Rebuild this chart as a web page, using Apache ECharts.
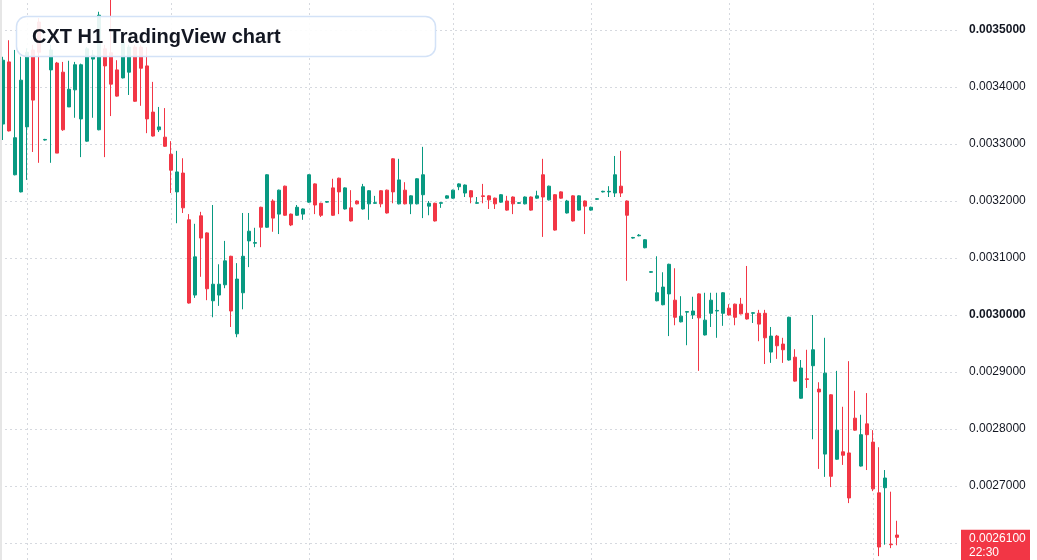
<!DOCTYPE html>
<html>
<head>
<meta charset="utf-8">
<title>CXT H1 TradingView chart</title>
<script src="https://cdn.jsdelivr.net/npm/echarts@6/dist/echarts.min.js"></script>
<style>
  html, body { margin: 0; padding: 0; background: #ffffff; overflow: hidden; width: 1037px; height: 560px; position: relative; }
  /* the price scale runs from 0.0025 to 0.0036; the window only shows the middle of it */
  #chart { position: absolute; left: 0; top: -27px; width: 1037px; height: 627px; }
</style>
</head>
<body>
<div id="chart"></div>
<script>
// hourly candles, oldest first
const opens = [
  0.003335, 0.003444, 0.003246, 0.003216, 0.003330, 0.003465, 0.003514, 0.003307, 0.003430, 0.003442,
  0.003426, 0.003365, 0.003395, 0.003344, 0.003305, 0.003449, 0.003325, 0.003467, 0.003460, 0.003430,
  0.003416, 0.003426, 0.003470, 0.003470, 0.003437, 0.003356, 0.003325, 0.003312, 0.003282, 0.003216,
  0.003249, 0.003167, 0.003035, 0.003174, 0.003144, 0.003025, 0.003035, 0.003053, 0.003103, 0.002967,
  0.003039, 0.003130, 0.003126, 0.003189, 0.003154, 0.003200, 0.003177, 0.003226, 0.003177, 0.003175,
  0.003177, 0.003198, 0.003230, 0.003196, 0.003198, 0.003223, 0.003240, 0.003186, 0.003188, 0.003200,
  0.003186, 0.003195, 0.003196, 0.003218, 0.003219, 0.003274, 0.003195, 0.003219, 0.003195, 0.003195,
  0.003211, 0.003191, 0.003196, 0.003196, 0.003205, 0.003205, 0.003225, 0.003214, 0.003218, 0.003196,
  0.003209, 0.003209, 0.003205, 0.003198, 0.003200, 0.003207, 0.003196, 0.003195, 0.003207, 0.003205,
  0.003246, 0.003202, 0.003211, 0.003216, 0.003179, 0.003209, 0.003184, 0.003200, 0.003184, 0.003203,
  0.003216, 0.003216, 0.003214, 0.003226, 0.003200, 0.003135, 0.003139, 0.003118, 0.003075, 0.003025,
  0.003018, 0.003037, 0.003026, 0.002988, 0.003005, 0.003000, 0.003037, 0.002965, 0.003003, 0.003007,
  0.003003, 0.003012, 0.003019, 0.003019, 0.003003, 0.003003, 0.003003, 0.003003, 0.002935, 0.002963,
  0.002949, 0.002921, 0.002926, 0.002854, 0.002888, 0.002911, 0.002870, 0.002756, 0.002860, 0.002747,
  0.002760, 0.002758, 0.002819, 0.002735, 0.002809, 0.002777, 0.002688, 0.002697, 0.002598, 0.002614
];
const closes = [
  0.003447, 0.003323, 0.003311, 0.003412, 0.003461, 0.003377, 0.003461, 0.003308, 0.003465, 0.003284,
  0.003325, 0.003396, 0.003439, 0.003439, 0.003467, 0.003456, 0.003526, 0.003437, 0.003405, 0.003384,
  0.003479, 0.003470, 0.003375, 0.003433, 0.003344, 0.003314, 0.003330, 0.003296, 0.003254, 0.003251,
  0.003188, 0.003021, 0.003102, 0.003135, 0.003046, 0.003054, 0.003054, 0.003095, 0.003007, 0.003063,
  0.003103, 0.003147, 0.003127, 0.003154, 0.003246, 0.003170, 0.003219, 0.003175, 0.003158, 0.003189,
  0.003186, 0.003246, 0.003193, 0.003175, 0.003199, 0.003175, 0.003216, 0.003223, 0.003165, 0.003195,
  0.003225, 0.003218, 0.003197, 0.003195, 0.003179, 0.003216, 0.003237, 0.003195, 0.003209, 0.003239,
  0.003246, 0.003196, 0.003165, 0.003197, 0.003209, 0.003219, 0.003230, 0.003228, 0.003207, 0.003197,
  0.003208, 0.003202, 0.003195, 0.003211, 0.003184, 0.003195, 0.003197, 0.003207, 0.003184, 0.003209,
  0.003207, 0.003226, 0.003149, 0.003205, 0.003200, 0.003165, 0.003209, 0.003191, 0.003189, 0.003204,
  0.003217, 0.003217, 0.003246, 0.003214, 0.003175, 0.003136, 0.003140, 0.003132, 0.003076, 0.003039,
  0.003049, 0.003089, 0.002996, 0.002998, 0.003006, 0.003007, 0.002995, 0.002991, 0.003026, 0.003008,
  0.003039, 0.003000, 0.002996, 0.003002, 0.002993, 0.003004, 0.002984, 0.002960, 0.002963, 0.002946,
  0.002939, 0.002996, 0.002884, 0.002907, 0.002887, 0.002939, 0.002865, 0.002898, 0.002717, 0.002798,
  0.002754, 0.002679, 0.002798, 0.002790, 0.002790, 0.002695, 0.002593, 0.002714, 0.002597, 0.002610
];
const lows = [
  0.003307, 0.003322, 0.003245, 0.003215, 0.003237, 0.003286, 0.003267, 0.003306, 0.003267, 0.003284,
  0.003323, 0.003365, 0.003346, 0.003277, 0.003304, 0.003346, 0.003324, 0.003277, 0.003349, 0.003383,
  0.003415, 0.003386, 0.003374, 0.003367, 0.003319, 0.003313, 0.003321, 0.003295, 0.003214, 0.003161,
  0.003179, 0.003020, 0.003030, 0.003067, 0.003026, 0.002996, 0.003016, 0.003047, 0.002979, 0.002961,
  0.003010, 0.003084, 0.003119, 0.003119, 0.003153, 0.003146, 0.003142, 0.003174, 0.003156, 0.003174,
  0.003167, 0.003197, 0.003177, 0.003172, 0.003197, 0.003174, 0.003177, 0.003185, 0.003164, 0.003194,
  0.003185, 0.003167, 0.003195, 0.003189, 0.003178, 0.003196, 0.003194, 0.003194, 0.003177, 0.003194,
  0.003170, 0.003175, 0.003164, 0.003188, 0.003204, 0.003204, 0.003219, 0.003207, 0.003196, 0.003195,
  0.003196, 0.003186, 0.003186, 0.003197, 0.003183, 0.003177, 0.003195, 0.003194, 0.003183, 0.003204,
  0.003137, 0.003201, 0.003148, 0.003204, 0.003178, 0.003164, 0.003183, 0.003142, 0.003183, 0.003202,
  0.003215, 0.003207, 0.003207, 0.003207, 0.003060, 0.003134, 0.003138, 0.003117, 0.003074, 0.003024,
  0.003017, 0.002963, 0.002982, 0.002987, 0.002947, 0.002993, 0.002902, 0.002964, 0.002979, 0.002960,
  0.002981, 0.002999, 0.002982, 0.003001, 0.002992, 0.002986, 0.002954, 0.002914, 0.002916, 0.002923,
  0.002916, 0.002920, 0.002883, 0.002853, 0.002872, 0.002782, 0.002730, 0.002716, 0.002698, 0.002746,
  0.002737, 0.002670, 0.002797, 0.002734, 0.002728, 0.002691, 0.002577, 0.002597, 0.002591, 0.002596
];
const highs = [
  0.003453, 0.003482, 0.003465, 0.003453, 0.003468, 0.003474, 0.003521, 0.003309, 0.003474, 0.003444,
  0.003444, 0.003446, 0.003444, 0.003441, 0.003470, 0.003465, 0.003532, 0.003474, 0.003556, 0.003447,
  0.003482, 0.003474, 0.003474, 0.003474, 0.003470, 0.003409, 0.003365, 0.003363, 0.003305, 0.003288,
  0.003275, 0.003177, 0.003160, 0.003181, 0.003145, 0.003193, 0.003089, 0.003130, 0.003104, 0.003091,
  0.003179, 0.003179, 0.003153, 0.003190, 0.003247, 0.003203, 0.003220, 0.003227, 0.003178, 0.003193,
  0.003187, 0.003247, 0.003231, 0.003197, 0.003200, 0.003239, 0.003241, 0.003224, 0.003219, 0.003201,
  0.003230, 0.003219, 0.003209, 0.003219, 0.003220, 0.003275, 0.003274, 0.003233, 0.003210, 0.003240,
  0.003295, 0.003200, 0.003197, 0.003198, 0.003210, 0.003220, 0.003231, 0.003229, 0.003219, 0.003207,
  0.003230, 0.003210, 0.003206, 0.003212, 0.003209, 0.003208, 0.003198, 0.003208, 0.003208, 0.003218,
  0.003274, 0.003227, 0.003212, 0.003217, 0.003202, 0.003210, 0.003210, 0.003201, 0.003190, 0.003205,
  0.003218, 0.003226, 0.003279, 0.003288, 0.003201, 0.003137, 0.003142, 0.003133, 0.003077, 0.003103,
  0.003075, 0.003090, 0.003082, 0.003033, 0.003007, 0.003032, 0.003038, 0.003039, 0.003039, 0.003039,
  0.003040, 0.003019, 0.003020, 0.003030, 0.003086, 0.003005, 0.003009, 0.003009, 0.002979, 0.002965,
  0.002960, 0.002997, 0.002940, 0.002921, 0.002939, 0.003000, 0.002882, 0.002960, 0.002861, 0.002902,
  0.002839, 0.002919, 0.002867, 0.002825, 0.002863, 0.002798, 0.002768, 0.002728, 0.002690, 0.002639
];
// candles where a new session starts (vertical grid lines)
const sessionStarts = [4, 28, 51, 75, 98, 121, 145];
// empty hours kept free on the right of the last candle
const rightOffset = 10;
const priceTicksBold = [0.0035, 0.0030];
const titleText = 'CXT H1 TradingView chart';
const barCountdown = '22:30';

const upColor = '#089981';
const downColor = '#f23645';
const gridColor = '#d6d9df';
const shift = 27; // the chart div starts 27px above the window

const slots = opens.length + rightOffset;
const categories = Array.from({length: slots}, (_, i) => 'h' + i);
const candles = opens.map((o, i) => [o, closes[i], lows[i], highs[i]]);
const lastPrice = closes[closes.length - 1];

const chart = echarts.init(document.getElementById('chart'));

const baseGraphic = [
  {id: 'edge', type: 'rect', shape: {x: 0, y: 0, width: 2, height: 627}, style: {fill: '#e6e6e6'}, silent: true, z: 100},
  {id: 'titleBox', type: 'rect', shape: {x: 16.5, y: 16.5 + shift, width: 419, height: 40, r: 10},
    style: {fill: 'rgba(255,255,255,0.9)', stroke: '#d3e2f7', lineWidth: 1.5}, silent: true, z: 100},
  {id: 'titleText', type: 'text', x: 32, y: 37 + shift,
    style: {text: titleText, font: 'bold 20px "Liberation Sans", Arial, sans-serif', fill: '#131722', verticalAlign: 'middle'},
    silent: true, z: 101}
]

const option = {
  animation: false,
  backgroundColor: '#ffffff',
  grid: {left: 0, right: 77, top: 0, bottom: 0, containLabel: false, outerBoundsMode: 'none'},
  xAxis: {
    type: 'category',
    data: categories,
    boundaryGap: true,
    axisLine: {show: false},
    axisTick: {show: false},
    axisLabel: {show: false},
    splitLine: {show: false}
  },
  yAxis: {
    type: 'value',
    position: 'right',
    min: 0.0025,
    max: 0.0036,
    interval: 0.0001,
    axisLine: {show: false},
    axisTick: {show: false},
    splitLine: {lineStyle: {color: gridColor, type: [2, 3], width: 1}},
    axisLabel: {
      margin: 9,
      color: '#131722',
      fontSize: 12,
      fontFamily: '"Liberation Sans", Arial, sans-serif',
      formatter: function (v) {
        if (Math.abs(v - lastPrice) < 0.00003) return ''; // covered by the price tag
        const s = v.toFixed(7);
        const bold = priceTicksBold.some(b => Math.abs(b - v) < 1e-9);
        return bold ? '{b|' + s + '}' : s;
      },
      rich: {
        b: {fontWeight: 'bold', fontSize: 12, color: '#131722', fontFamily: '"Liberation Sans", Arial, sans-serif'}
      }
    }
  },
  series: [
    {
      // empty series, only carries the vertical session lines behind the candles
      type: 'line',
      data: [],
      z: 1,
      silent: true,
      markLine: {
        z: 1,
        silent: true,
        symbol: ['none', 'none'],
        label: {show: false},
        lineStyle: {color: gridColor, type: [2, 3], width: 1},
        data: sessionStarts.map(i => ({xAxis: categories[i]}))
      }
    },
    {
      type: 'candlestick',
      data: candles,
      barWidth: 4,
      z: 2,
      itemStyle: {
        color: upColor,
        color0: downColor,
        borderColor: upColor,
        borderColor0: downColor,
        borderWidth: 1
      },
      markLine: {
        z: 1,
        silent: true,
        symbol: ['none', 'none'],
        label: {show: false},
        data: [{
          yAxis: lastPrice,
          lineStyle: {color: downColor, type: [1, 2], width: 1}
        }]
      }
    }
  ],
  graphic: baseGraphic
}

chart.setOption(option);

// price tag on the right scale, placed at the last close
const py = chart.convertToPixel({yAxisIndex: 0}, lastPrice);
chart.setOption({
  graphic: baseGraphic.concat([
    {id: 'tagBox', type: 'rect', shape: {x: 961, y: py - 7.5, width: 69, height: 32}, style: {fill: downColor}, silent: true, z: 102},
    {id: 'tagText', type: 'text', x: 969, y: py - 5.5,
      style: {text: lastPrice.toFixed(7) + '\n' + barCountdown, fill: '#ffffff', lineHeight: 14,
        font: '12px "Liberation Sans", Arial, sans-serif', verticalAlign: 'top'},
      silent: true, z: 103}
  ])
});
</script>
</body>
</html>
